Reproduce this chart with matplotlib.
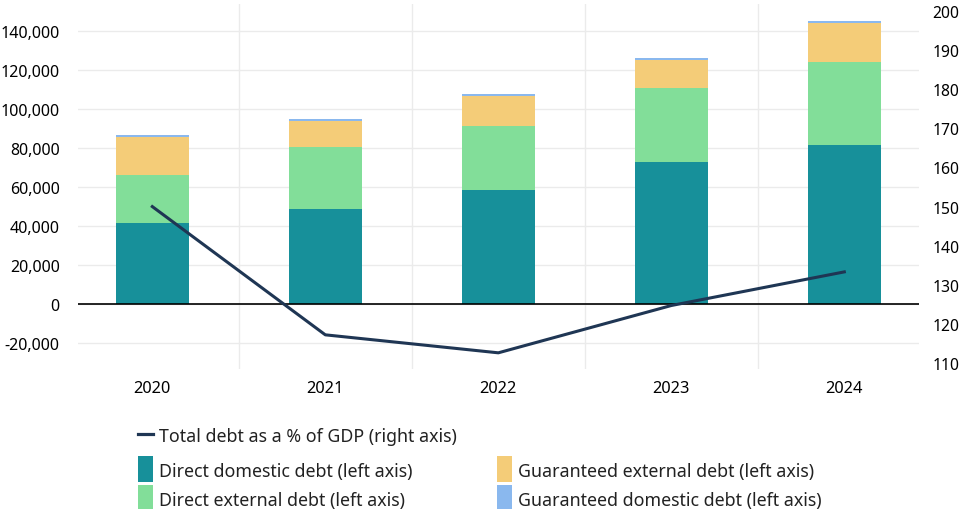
import matplotlib
matplotlib.use("Agg")
import matplotlib.pyplot as plt
from matplotlib.lines import Line2D
from matplotlib.patches import Rectangle
from matplotlib.ticker import FuncFormatter
import numpy as np

plt.rcParams.update({
    "font.family": ["Noto Sans", "DejaVu Sans"],
    "font.size": 11,
    "text.color": "#222222",
})

# ---- data ---------------------------------------------------------------
years = ["2020", "2021", "2022", "2023", "2024"]
direct_domestic = [41500, 48700, 58500, 72800, 81500]
direct_external = [24650, 31800, 32800, 37950, 42600]
guaranteed_external = [19500, 13350, 15400, 14350, 20000]
guaranteed_domestic = [1000, 1000, 1000, 1000, 1000]
debt_pct_gdp = [150.0, 117.2, 112.6, 124.7, 133.3]

left_ticks = [-20000, 0, 20000, 40000, 60000, 80000, 100000, 120000, 140000]
right_ticks = [110, 120, 130, 140, 150, 160, 170, 180, 190, 200]

# ---- palette ------------------------------------------------------------
C_DD = "#17909A"
C_DE = "#82DE99"
C_GE = "#F4CC78"
C_GD = "#8AB8EE"
C_LINE = "#1F3654"
GRID = "#EBEBEB"

W, H = 962, 510
fig = plt.figure(figsize=(W / 100, H / 100), dpi=100)
ax = fig.add_axes([0.081, 0.2745, 0.874, 0.7155])
ax2 = ax.twinx()

x = np.arange(len(years))
w = 0.42
b1 = np.array(direct_domestic)
b2 = b1 + np.array(direct_external)
b3 = b2 + np.array(guaranteed_external)
ax.bar(x, direct_domestic, w, color=C_DD, zorder=3)
ax.bar(x, direct_external, w, bottom=b1, color=C_DE, zorder=3)
ax.bar(x, guaranteed_external, w, bottom=b2, color=C_GE, zorder=3)
ax.bar(x, guaranteed_domestic, w, bottom=b3, color=C_GD, zorder=3)

ax.set_xlim(-0.43, 4.43)
ax.set_ylim(-33300, 153800)
ax.set_yticks(left_ticks)
ax.yaxis.set_major_formatter(FuncFormatter(lambda v, p: f"{int(v):,}"))
ax.set_xticks(x)
ax.set_xticklabels(years)
ax.set_xticks(x[:-1] + 0.5, minor=True)
ax.grid(axis="y", color=GRID, lw=1.0, zorder=0)
ax.grid(axis="x", which="minor", color=GRID, lw=1.0, zorder=0)
ax.axhline(0, color="black", lw=1.2, zorder=4)
ax.tick_params(axis="both", which="both", length=0)
ax.tick_params(axis="y", pad=13, labelsize=11.5)
ax.tick_params(axis="x", pad=8, labelsize=11.8)

ax2.plot(x, debt_pct_gdp, color=C_LINE, lw=2.2, zorder=5)
ax2.set_ylim(108.46, 201.79)
ax2.set_yticks(right_ticks)
ax2.tick_params(axis="y", length=0, pad=10, labelsize=11.3)

for a in (ax, ax2):
    for s in a.spines.values():
        s.set_visible(False)


# ---- legend (placed by hand, in pixels from top-left) --------------------
def fx(px):
    return px / W


def fy(py):
    return 1 - py / H


LEG_FS = 12.8
fig.add_artist(Line2D([fx(138), fx(153)], [fy(435), fy(435)],
                      color=C_LINE, lw=2.3, transform=fig.transFigure))
fig.text(fx(159), fy(435), "Total debt as a % of GDP (right axis)",
         fontsize=LEG_FS, va="center_baseline", ha="left")

entries = [
    (138, 457, C_DD, "Direct domestic debt (left axis)"),
    (138, 486, C_DE, "Direct external debt (left axis)"),
    (497, 457, C_GE, "Guaranteed external debt (left axis)"),
    (497, 486, C_GD, "Guaranteed domestic debt (left axis)"),
]
for px, py, col, label in entries:
    fig.add_artist(Rectangle((fx(px), fy(py + 26)), 15 / W, 26 / H,
                             color=col, lw=0, transform=fig.transFigure))
    fig.text(fx(px + 21), fy(py + 13), label, fontsize=LEG_FS,
             va="center_baseline", ha="left")

fig.savefig("out.png", dpi=100)
